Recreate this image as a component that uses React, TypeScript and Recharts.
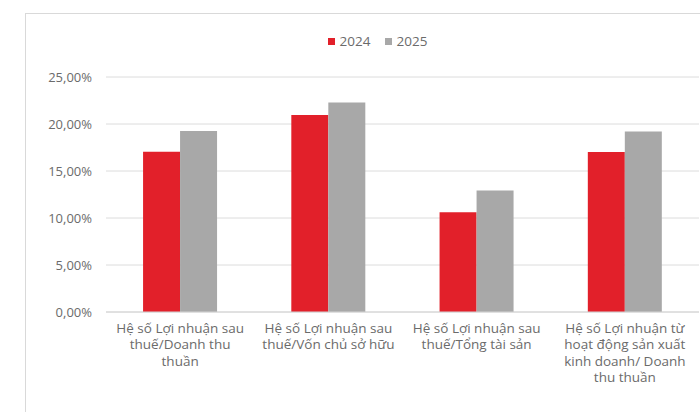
import { BarChart, Bar, XAxis, YAxis, CartesianGrid } from "recharts";

const categories = [
  "Hệ số Lợi nhuận sau\nthuế/Doanh thu\nthuần",
  "Hệ số Lợi nhuận sau\nthuế/Vốn chủ sở hữu",
  "Hệ số Lợi nhuận sau\nthuế/Tổng tài sản",
  "Hệ số Lợi nhuận từ\nhoạt động sản xuất\nkinh doanh/ Doanh\nthu thuần",
];
const values2024 = [0.1706, 0.2097, 0.106, 0.1702];
const values2025 = [0.1926, 0.223, 0.1293, 0.192];
const yTicks = [0, 0.05, 0.1, 0.15, 0.2, 0.25];

const data = categories.map((name, i) => ({
  name,
  y2024: values2024[i],
  y2025: values2025[i],
}));

const FONT = '"Open Sans", sans-serif';
const RED = "#E2202A";
const GRAY = "#A8A8A8";
const TEXT = "#6b6b6b";

const fmtPct = (v: number) => (v * 100).toFixed(2).replace(".", ",") + "%";

const CategoryTick = ({ x, y, payload }: any) => {
  const lines = String(payload.value).split("\n");
  return (
    <text x={x} y={y + 3} textAnchor="middle" fill={TEXT} fontSize={13.5} fontFamily={FONT}>
      {lines.map((l, i) => (
        <tspan key={i} x={x} dy={i === 0 ? "0.71em" : 16.5}>
          {l}
        </tspan>
      ))}
    </text>
  );
};

// legend drawn as plain html so it does not push the plot area down
const ChartLegend = () => (
  <div
    style={{
      position: "absolute",
      top: 31,
      left: 55,
      width: 645,
      display: "flex",
      justifyContent: "center",
      gap: 14,
      fontFamily: FONT,
      fontSize: 13.5,
      color: TEXT,
      lineHeight: "20px",
    }}
  >
    {[
      { c: RED, t: "2024" },
      { c: GRAY, t: "2025" },
    ].map((it) => (
      <span key={it.t} style={{ display: "flex", alignItems: "center", gap: 5 }}>
        <span style={{ width: 7, height: 7, background: it.c, display: "inline-block" }} />
        {it.t}
      </span>
    ))}
  </div>
);

export default function App() {
  return (
    <div style={{ position: "absolute", left: 0, top: 0, width: 700, height: 412, overflow: "hidden", background: "#fff" }}>
      <div
        style={{
          position: "absolute",
          left: 25,
          top: 13,
          width: 720,
          height: 440,
          border: "1px solid #d9d9d9",
        }}
      />
      <ChartLegend />
      <BarChart
        width={700}
        height={412}
        data={data}
        margin={{ top: 77, right: 1, left: 0, bottom: 0 }}
        barCategoryGap="25%"
        barGap={0}
        style={{ position: "absolute", left: 0, top: 0 }}
      >
        <CartesianGrid vertical={false} stroke="#dcdcdc" />
        <XAxis
          dataKey="name"
          interval={0}
          height={100}
          tickLine={false}
          axisLine={{ stroke: "#d4d4d4" }}
          tick={<CategoryTick />}
        />
        <YAxis
          width={106}
          domain={[0, 0.25]}
          ticks={yTicks}
          tickFormatter={fmtPct}
          axisLine={false}
          tickLine={false}
          tickMargin={8}
          tick={{ fontSize: 13, fill: TEXT, fontFamily: FONT }}
        />
        <Bar dataKey="y2024" name="2024" fill={RED} isAnimationActive={false} />
        <Bar dataKey="y2025" name="2025" fill={GRAY} isAnimationActive={false} />
      </BarChart>
    </div>
  );
}
